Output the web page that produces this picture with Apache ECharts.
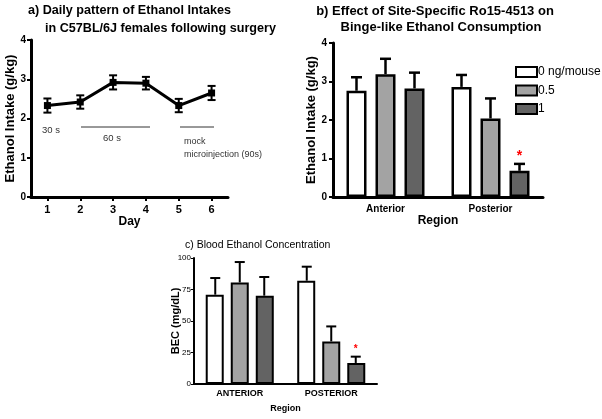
<!DOCTYPE html>
<html><head><meta charset="utf-8">
<script src="https://cdn.jsdelivr.net/npm/echarts@6/dist/echarts.min.js"></script>
<style>html,body{margin:0;padding:0;background:#fff}#c{width:602px;height:419px}</style>
</head><body><div id="c"></div>
<script>
// Panel a: daily pattern
const days = ['1','2','3','4','5','6'];
const dailyIntake = [2.33, 2.42, 2.92, 2.90, 2.33, 2.65];
const dailySem = [0.18, 0.17, 0.18, 0.16, 0.17, 0.18];
// Panel b: intake by region & dose
const regionsB = ['Anterior', 'Posterior'];
const doseNames = ['0 ng/mouse', '0.5', '1'];
const intakeDose0 = [2.76, 2.86];
const intakeDose05 = [3.19, 2.04];
const intakeDose1 = [2.82, 0.68];
const intakeSem0 = [0.35, 0.31];
const intakeSem05 = [0.40, 0.52];
const intakeSem1 = [0.41, 0.18];
const intakeSig1 = [0, 1];
// Panel c: BEC
const regionsC = ['ANTERIOR', 'POSTERIOR'];
const becDose0 = [70.9, 82.0];
const becDose05 = [80.6, 33.8];
const becDose1 = [70.1, 16.7];
const becSem0 = [13.2, 11.1];
const becSem05 = [16.2, 11.9];
const becSem1 = [14.8, 5.0];
const becSig1 = [0, 1];

const FONT = 'Liberation Sans, Arial, sans-serif';
const barColors = ['#ffffff', '#a3a3a3', '#636363'];

function errRender(step, idx, cap, both, lw, starFont, starGap) {
  return function (params, api) {
    const ci = api.value(0), m = api.value(1), s = api.value(2), sig = api.value(3);
    const off = (idx - 1) * step;
    const p0 = api.coord([ci, both ? m - s : m]);
    const p1 = api.coord([ci, m + s]);
    const x = p0[0] + off;
    const st = { stroke: '#000', lineWidth: lw };
    const ch = [
      { type: 'line', shape: { x1: x, y1: p0[1], x2: x, y2: p1[1] }, style: st },
      { type: 'line', shape: { x1: x - cap / 2, y1: p1[1], x2: x + cap / 2, y2: p1[1] }, style: st }
    ];
    if (both) ch.push({ type: 'line', shape: { x1: x - cap / 2, y1: p0[1], x2: x + cap / 2, y2: p0[1] }, style: st });
    if (sig) ch.push({ type: 'text', style: { text: '*', x: x, y: p1[1] - starGap, textAlign: 'center', textVerticalAlign: 'middle', fill: '#ff0000', font: starFont } });
    return { type: 'group', children: ch };
  };
}

function errData(means, sems, sigs) {
  return means.map((m, i) => [i, m, sems[i], sigs ? sigs[i] : 0]);
}

const chart = echarts.init(document.getElementById('c'), null, { renderer: 'canvas' });

const axisLine3 = { show: true, lineStyle: { color: '#000', width: 3 } };
const axisLine2 = { show: true, lineStyle: { color: '#000', width: 2 } };

const bSeries = [intakeDose0, intakeDose05, intakeDose1];
const bSems = [intakeSem0, intakeSem05, intakeSem1];
const cSeries = [becDose0, becDose05, becDose1];
const cSems = [becSem0, becSem05, becSem1];

const series = [];
// panel a
series.push({
  type: 'line', xAxisIndex: 0, yAxisIndex: 0, data: dailyIntake,
  lineStyle: { color: '#000', width: 3 }, itemStyle: { color: '#000' },
  symbol: 'rect', symbolSize: 7, z: 3
});
series.push({
  type: 'custom', xAxisIndex: 0, yAxisIndex: 0, data: errData(dailyIntake, dailySem),
  renderItem: errRender(0, 1, 8, true, 2, '', 0), z: 4
});
// panel b
for (let k = 0; k < 3; k++) {
  series.push({
    type: 'bar', name: doseNames[k], xAxisIndex: 1, yAxisIndex: 1, data: bSeries[k],
    barWidth: 20, barGap: '45%',
    itemStyle: { color: barColors[k], borderColor: '#000', borderWidth: 2.5 }
  });
}
for (let k = 0; k < 3; k++) {
  series.push({
    type: 'custom', xAxisIndex: 1, yAxisIndex: 1,
    data: errData(bSeries[k], bSems[k], k === 2 ? intakeSig1 : null),
    renderItem: errRender(29, k, 11, false, 2.5, 'bold 14px ' + FONT, 8), z: 4
  });
}
// panel c
for (let k = 0; k < 3; k++) {
  series.push({
    type: 'bar', name: doseNames[k], xAxisIndex: 2, yAxisIndex: 2, data: cSeries[k],
    barWidth: 18, barGap: '39%',
    itemStyle: { color: barColors[k], borderColor: '#000', borderWidth: 2 }
  });
}
for (let k = 0; k < 3; k++) {
  series.push({
    type: 'custom', xAxisIndex: 2, yAxisIndex: 2,
    data: errData(cSeries[k], cSems[k], k === 2 ? becSig1 : null),
    renderItem: errRender(24.5, k, 10, false, 2, 'bold 10px ' + FONT, 7), z: 4
  });
}

const option = {
  animation: false,
  backgroundColor: '#fff',
  textStyle: { fontFamily: FONT },
  grid: [
    { left: 31, right: 602 - 228, top: 40, bottom: 419 - 197 },
    { left: 333, right: 602 - 543, top: 43, bottom: 419 - 197 },
    { left: 194, right: 602 - 377, top: 258, bottom: 419 - 384 }
  ],
  legend: {
    data: doseNames, orient: 'vertical', left: 515, top: 66,
    icon: 'rect',
    itemWidth: 21, itemHeight: 10, itemGap: 6.5, padding: 0,
    textStyle: { fontSize: 12, color: '#000', fontFamily: FONT, padding: [0, 0, 0, -4] },
    selectedMode: false
  },
  xAxis: [
    {
      type: 'category', gridIndex: 0, data: days, boundaryGap: true,
      axisLine: axisLine3, axisTick: { show: true, alignWithLabel: true, length: 4, lineStyle: { width: 2, color: '#000' } },
      axisLabel: { fontSize: 11, fontWeight: 'bold', color: '#000', margin: 7 },
      name: 'Day', nameLocation: 'middle', nameGap: 19,
      nameTextStyle: { fontSize: 12, fontWeight: 'bold', color: '#000' }
    },
    {
      type: 'category', gridIndex: 1, data: regionsB,
      axisLine: axisLine3, axisTick: { show: false },
      axisLabel: { fontSize: 10, fontWeight: 'bold', color: '#000', margin: 7 },
      name: 'Region', nameLocation: 'middle', nameGap: 15,
      nameTextStyle: { fontSize: 12, fontWeight: 'bold', color: '#000' }
    },
    {
      type: 'category', gridIndex: 2, data: regionsC,
      axisLine: axisLine2, axisTick: { show: false },
      axisLabel: { fontSize: 9, fontWeight: 'bold', color: '#000', margin: 5 },
      name: 'Region', nameLocation: 'middle', nameGap: 20, nameMoveOverlap: false,
      nameTextStyle: { fontSize: 9, fontWeight: 'bold', color: '#000' }
    }
  ],
  yAxis: [
    {
      type: 'value', gridIndex: 0, min: 0, max: 4, interval: 1,
      axisLine: axisLine3, axisTick: { show: true, length: 4, lineStyle: { width: 2, color: '#000' } },
      splitLine: { show: false },
      axisLabel: { fontSize: 10, fontWeight: 'bold', color: '#000', margin: 5 },
      name: 'Ethanol Intake (g/kg)', nameLocation: 'middle', nameGap: 12,
      nameTextStyle: { fontSize: 13, fontWeight: 'bold', color: '#000' }
    },
    {
      type: 'value', gridIndex: 1, min: 0, max: 4, interval: 1,
      axisLine: axisLine3, axisTick: { show: true, length: 4, lineStyle: { width: 2, color: '#000' } },
      splitLine: { show: false },
      axisLabel: { fontSize: 10, fontWeight: 'bold', color: '#000', margin: 6 },
      name: 'Ethanol Intake (g/kg)', nameLocation: 'middle', nameGap: 14,
      nameTextStyle: { fontSize: 13, fontWeight: 'bold', color: '#000' }
    },
    {
      type: 'value', gridIndex: 2, min: 0, max: 100, interval: 25,
      axisLine: axisLine2, axisTick: { show: true, length: 3, lineStyle: { width: 1, color: '#000' } },
      splitLine: { show: false },
      axisLabel: { fontSize: 8, color: '#000', margin: 3 },
      name: 'BEC (mg/dL)', nameLocation: 'middle', nameGap: 13, nameMoveOverlap: false,
      nameTextStyle: { fontSize: 11, fontWeight: 'bold', color: '#000' }
    }
  ],
  graphic: [
    { type: 'text', style: { text: 'a) Daily pattern of Ethanol Intakes', x: 28, y: 11, textAlign: 'left', textVerticalAlign: 'middle', font: 'bold 12.6px ' + FONT, fill: '#000' } },
    { type: 'text', style: { text: 'in C57BL/6J females following surgery', x: 45, y: 29, textAlign: 'left', textVerticalAlign: 'middle', font: 'bold 12.6px ' + FONT, fill: '#000' } },
    { type: 'text', style: { text: 'b) Effect of Site-Specific Ro15-4513 on', x: 435, y: 11, textAlign: 'center', textVerticalAlign: 'middle', font: 'bold 13px ' + FONT, fill: '#000' } },
    { type: 'text', style: { text: 'Binge-like Ethanol Consumption', x: 441, y: 27, textAlign: 'center', textVerticalAlign: 'middle', font: 'bold 13px ' + FONT, fill: '#000' } },
    { type: 'text', style: { text: 'c) Blood Ethanol Concentration', x: 185, y: 245, textAlign: 'left', textVerticalAlign: 'middle', font: '10.5px ' + FONT, fill: '#000' } },
    { type: 'text', style: { text: '30 s', x: 42, y: 130, textAlign: 'left', textVerticalAlign: 'middle', font: '9.5px ' + FONT, fill: '#333' } },
    { type: 'line', shape: { x1: 81, y1: 127, x2: 150, y2: 127 }, style: { stroke: '#333', lineWidth: 1 } },
    { type: 'text', style: { text: '60 s', x: 112, y: 138, textAlign: 'center', textVerticalAlign: 'middle', font: '9.5px ' + FONT, fill: '#333' } },
    { type: 'line', shape: { x1: 180, y1: 127, x2: 214, y2: 127 }, style: { stroke: '#333', lineWidth: 1 } },
    { type: 'text', style: { text: 'mock', x: 184, y: 142, textAlign: 'left', textVerticalAlign: 'middle', font: '9px ' + FONT, fill: '#333' } },
    { type: 'text', style: { text: 'microinjection (90s)', x: 184, y: 155, textAlign: 'left', textVerticalAlign: 'middle', font: '9px ' + FONT, fill: '#333' } }
  ],
  series: series
};
chart.setOption(option);
</script>
</body></html>
